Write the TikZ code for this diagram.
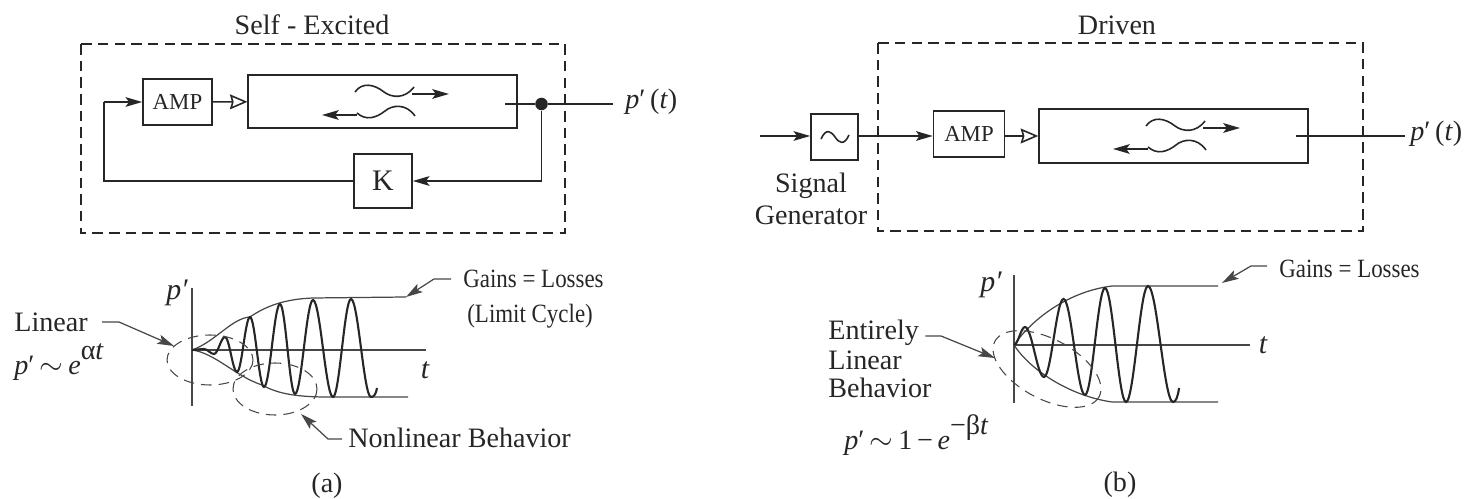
\documentclass[tikz,border=0pt]{standalone}
\usepackage{fontspec}
\setmainfont{Liberation Serif}
\usetikzlibrary{arrows.meta}
\definecolor{ink}{HTML}{262626}
\newcommand{\oscillation}[3]{% start x, start y, list of extremes
    \foreach \x/\y [remember=\x as \px (initially #1), remember=\y as \py (initially #2)] in {#3}
        { .. controls ({\px+0.36*(\x-\px)},\py) and ({\x-0.36*(\x-\px)},\y) .. (\x,\y) }
}
\newcommand{\narrowed}[1]{\scalebox{0.87}[1]{#1}}
\tikzset{
    every node/.style={text=ink},
    solidtip/.style={-{Stealth[length=9.5pt,width=5.5pt,inset=2pt]}},
    opentip/.style={-{Stealth[open,length=10pt,width=8.5pt,inset=1.2pt,fill=white]}},
    line/.style={draw=ink, line width=0.9pt},
    bold line/.style={draw=ink, line width=1.2pt},
    thin line/.style={draw=ink!85, line width=0.7pt},
    box/.style={rectangle, draw=ink, line width=0.9pt, inner sep=0pt, align=center},
    border/.style={draw=ink, line width=0.8pt, dash pattern=on 6pt off 3.5pt},
    ring/.style={draw=ink!85, line width=0.6pt, dash pattern=on 6pt off 4pt},
    big/.style={font=\fontsize{16}{18}\selectfont, inner sep=0pt},
    small/.style={font=\fontsize{15}{17}\selectfont, inner sep=0pt},
    wavepair/.pic={
        \coordinate (-ua) at (412,94);
        \coordinate (-ub) at (449,94);
        \coordinate (-la) at (357,115);
        \coordinate (-lb) at (322,115);
        \draw[line] (355,92) .. controls (362,82) and (374,84) .. (384,92)
            .. controls (392,98) and (405,99) .. (414,87);
        \draw[line] (357,113) .. controls (366,121) and (376,118) .. (385,111)
            .. controls (392,105) and (406,103) .. (415,116);
        \draw[line, solidtip] (-ua) -- (-ub);
        \draw[line, solidtip] (-la) -- (-lb);
    }
}
\begin{document}
\begin{tikzpicture}[x=0.02cm, y=-0.02cm]
    \useasboundingbox (0,0) rectangle (1464,499);
    % Self-excited loop
    \node [big] (titleA) at (312,25) {Self - Excited};
    \node [box, minimum width=1.38cm, minimum height=0.92cm, font=\fontsize{13}{15}\selectfont] (ampA) at (177.5,102) {AMP};
    \node [box, minimum width=5.37cm, minimum height=1.06cm] (ductA) at (382.5,101.5) {};
    \node [box, minimum width=1.16cm, minimum height=1.08cm, font=\fontsize{17}{19}\selectfont] (gainK) at (383,181) {K};
    \node [big, anchor=west] (outA) at (625,102) {\textit{p}′\,(\textit{t})};
    \node [circle, fill=ink, minimum size=11pt, scale=0.65, inner sep=0pt] (tap) at (541.5,104) {};
    \draw[border] (81,44) rectangle (565,233);
    \coordinate (ductOutA) at (505,104);
    \coordinate (endA) at (613,104);
    \coordinate (cornerTop) at (104,102);
    \coordinate (cornerBot) at (104,181);
    \coordinate (cornerTap) at (541.5,181);
    \draw[line] (ductOutA) -- (tap) -- (endA);
    \draw[line, solidtip] (tap) -- (cornerTap) -- (gainK);
    \draw[line] (gainK) -- (cornerBot) -- (cornerTop);
    \draw[line, solidtip] (cornerTop) -- (ampA);
    \draw[line, opentip] (ampA) -- (ductA);
    \pic at (0,0) {wavepair};
    % Self-excited growth
    \coordinate (axisTopA) at (192,288);
    \coordinate (axisBotA) at (192,406);
    \coordinate (originA) at (192,350);
    \coordinate (axisEndA) at (426,350);
    \node [big, font=\fontsize{17}{19}\selectfont\itshape] (yA) at (177,293) {p′};
    \node [big, font=\fontsize{17}{19}\selectfont\itshape] (tA) at (425,370) {t};
    \draw[thin line] (axisTopA) -- (axisBotA);
    \draw[thin line, line width=0.9pt] (originA) -- (axisEndA);
    \draw[thin line] (originA) .. controls (215,342) and (232,318) .. (250,317) .. controls (266,306) and (285,299) .. (313,298) -- (406,297);
    \draw[thin line] (originA) .. controls (215,353) and (235,376) .. (262,385) .. controls (275,392) and (290,397) .. (328,397) -- (408,397);
    \draw[bold line] (originA) \oscillation{192}{350}{204/349,214/354,225/337,237/372,250/317,264/387,280/304,295/394,313/300,333/397,351/299,371/397}
        .. controls (374,397) and (376,394) .. (377,388);
    \draw[ring] (210,360) ellipse (43 and 25);
    \draw[ring] (275,389) ellipse (42 and 26);
    \node [big, anchor=west] (linearA) at (14,322) {Linear};
    \node [big, anchor=west] (lawA) at (14,362) {\textit{p}′$\,\sim\,$\textit{e}\raisebox{1.2ex}{α\textit{t}}};
    \coordinate (linearKnee) at (119,322);
    \coordinate (linearTip) at (174,346);
    \draw[thin line, solidtip] (linearA.east) ++(14,0) -- (linearKnee) -- (linearTip);
    \node [small, anchor=west] (gainsA) at (463,279) {\narrowed{Gains = Losses}};
    \node [small, anchor=west] (cycleA) at (467,316) {\narrowed{(Limit Cycle)}};
    \coordinate (gainsKneeA) at (434,279);
    \coordinate (gainsTipA) at (406,297);
    \draw[thin line, solidtip] (gainsA.west) ++(-12,0) -- (gainsKneeA) -- (gainsTipA);
    \node [big, anchor=west] (nonlinear) at (348,438) {Nonlinear Behavior};
    \coordinate (nonlinearKnee) at (328,439);
    \coordinate (nonlinearTip) at (301,414);
    \draw[thin line, solidtip] (nonlinear.west) ++(-6,1) -- (nonlinearKnee) -- (nonlinearTip);
    \node [big] (capA) at (327,486) {(a)};
    % Driven system
    \node [big] (titleB) at (1117,25) {Driven};
    \draw[border] (878,43) rectangle (1363,231);
    \node [box, minimum width=0.94cm, minimum height=0.92cm] (generator) at (834.5,137) {};
    \node [box, minimum width=1.42cm, minimum height=0.92cm, font=\fontsize{13}{15}\selectfont] (ampB) at (969,134) {AMP};
    \node [box, minimum width=5.38cm, minimum height=1.08cm] (ductB) at (1173.5,136) {};
    \node [big, anchor=west] (outB) at (1410,134) {\textit{p}′\,(\textit{t})};
    \node [big, align=center] (genLabel) at (811,199) {Signal\\Generator};
    \coordinate (inB) at (759.5,136);
    \coordinate (ductOutB) at (1295.5,136);
    \coordinate (endB) at (1404.5,136);
    \draw[line, solidtip] (inB) -- (inB -| generator.west);
    \draw[line, solidtip] (inB -| generator.east) -- (inB -| ampB.west);
    \draw[line, opentip] (inB -| ampB.east) -- (inB -| ductB.west);
    \draw[line] (ductOutB) -- (endB);
    \draw[line] (821,139) .. controls (826,128) and (831,131) .. (835,137) .. controls (839,143) and (844,146) .. (849,135);
    \pic at (791,34) {wavepair};
    % Driven growth
    \coordinate (axisTopB) at (1014,275);
    \coordinate (axisBotB) at (1014,403);
    \coordinate (originB) at (1014,345);
    \coordinate (axisEndB) at (1250,345);
    \node [big, font=\fontsize{17}{19}\selectfont\itshape] (yB) at (991,285) {p′};
    \node [big, font=\fontsize{17}{19}\selectfont\itshape] (tB) at (1263,345) {t};
    \draw[thin line] (axisTopB) -- (axisBotB);
    \draw[thin line, line width=0.9pt] (originB) -- (axisEndB);
    \draw[thin line] (originB) .. controls (1030,322) and (1065,292) .. (1112,286) -- (1218,286);
    \draw[thin line] (originB) .. controls (1030,370) and (1070,396) .. (1112,402) -- (1218,402);
    \draw[bold line] (originB) \oscillation{1014}{345}{1025/327,1044/377,1063.5/299,1085/395,1105/288,1126/402,1148/286,1173/402}
        .. controls (1176,402) and (1178,396) .. (1179,388);
    \draw[ring, rotate around={-28:(1047,369)}] (1047,369) ellipse (59 and 30);
    \node [big, anchor=west] (entirely) at (828,333) {Entirely};
    \node [big, anchor=west] (linearB) at (828,360) {Linear};
    \node [big, anchor=west] (behavior) at (828,388) {Behavior};
    \node [big, anchor=west] (lawB) at (844,435) {\textit{p}′$\,\sim\,$1\,−\,\textit{e}\raisebox{1.2ex}{−β\textit{t}}};
    \coordinate (entirelyKnee) at (941,336);
    \coordinate (entirelyTip) at (995,358);
    \draw[thin line, solidtip] (entirely.east) ++(6,3) -- (entirelyKnee) -- (entirelyTip);
    \node [small, anchor=west] (gainsB) at (1279,269) {\narrowed{Gains = Losses}};
    \coordinate (gainsKneeB) at (1251,266);
    \coordinate (gainsTipB) at (1222,283);
    \draw[thin line, solidtip] (gainsB.west) ++(-12,-3) -- (gainsKneeB) -- (gainsTipB);
    \node [big] (capB) at (1120,485) {(b)};
\end{tikzpicture}
\end{document}
